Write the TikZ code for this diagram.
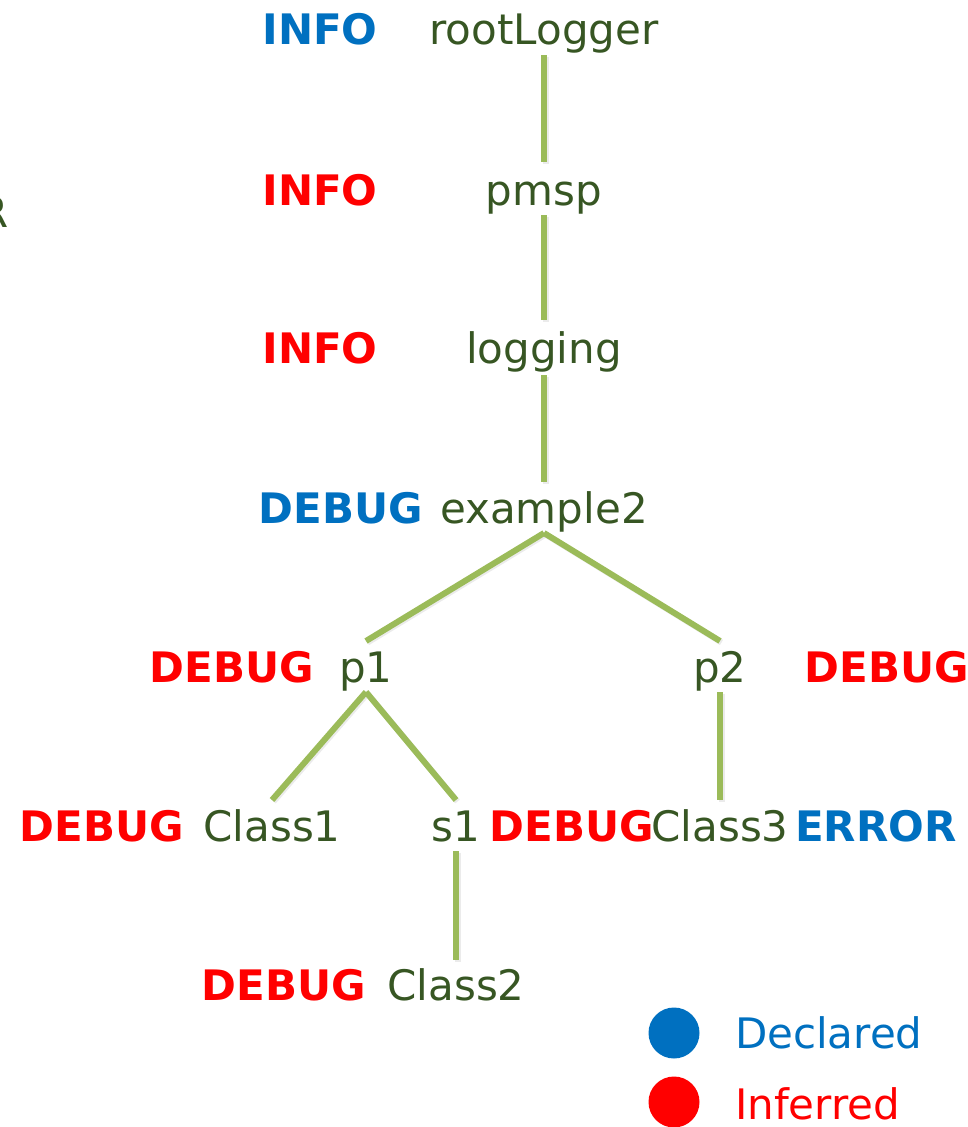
\documentclass[tikz,border=0pt]{standalone}
\usepackage{fontspec}
\setmainfont{DejaVu Sans}
\usetikzlibrary{calc}

\definecolor{declared}{RGB}{0,112,192}
\definecolor{inferred}{RGB}{255,0,0}
\definecolor{loggername}{RGB}{55,86,35}
\definecolor{branch}{RGB}{155,187,89}

\tikzset{
  txt/.style={inner sep=0pt, outer sep=0pt, anchor=base,
    text height=30pt, text depth=9pt,
    font=\fontsize{42}{42}\selectfont},
  logger/.style={txt, text=loggername},
  lvldecl/.style={txt, text=declared, font=\fontsize{42}{42}\selectfont\bfseries},
  lvlinf/.style={txt, text=inferred, font=\fontsize{42}{42}\selectfont\bfseries},
  link/.style={draw=branch, line width=6pt},
  linkshade/.style={draw=black!35, line width=6pt, opacity=0.22},
}

\begin{document}
\begin{tikzpicture}[x=1pt, y=-1pt]
  \useasboundingbox (0,0) rectangle (968,1127);

  % stray label cut by the left border
  \node[txt, text=loggername, anchor=base east] (cut) at (9,227) {R};

  % level 0
  \node[lvldecl] (lvRoot) at (320,44) {INFO};
  \node[logger]  (root)   at (544,44) {rootLogger};
  % level 1
  \node[lvlinf]  (lvPmsp) at (320,205) {INFO};
  \node[logger]  (pmsp)   at (544,205) {pmsp};
  % level 2
  \node[lvlinf]  (lvLog)  at (320,363) {INFO};
  \node[logger]  (logging) at (544,363) {logging};
  % level 3
  \node[lvldecl] (lvEx)   at (341,523) {DEBUG};
  \node[logger]  (ex)     at (544,523) {example2};
  % level 4
  \node[lvlinf]  (lvP1)   at (232,682) {DEBUG};
  \node[logger]  (p1)     at (366,682) {p1};
  \node[logger]  (p2)     at (720,682) {p2};
  \node[lvlinf]  (lvP2)   at (887,682) {DEBUG};
  % level 5
  \node[lvlinf]  (lvC1)   at (102,841) {DEBUG};
  \node[logger]  (c1)     at (272,841) {Class1};
  \node[logger]  (s1)     at (456,841) {s1};
  \node[lvlinf]  (lvS1)   at (572,841) {DEBUG};
  \node[logger]  (c3)     at (720,841) {Class3};
  \node[lvldecl] (lvC3)   at (876,841) {ERROR};
  % level 6
  \node[lvlinf]  (lvC2)   at (284,1000) {DEBUG};
  \node[logger]  (c2)     at (456,1000) {Class2};

  % tree branches (shadow first, then the branch itself)
  \foreach \a/\b/\s/\e in {
      root/pmsp/2/13, pmsp/logging/1/13, logging/ex/3/11,
      ex/p1/1/11, ex/p2/1/11,
      p1/c1/1/11, p1/s1/1/11, p2/c3/1/11,
      s1/c2/1/10}{
    \path[linkshade] ([xshift=1.5pt,yshift=-1.5pt-\s pt]\a.south)
      -- ([xshift=1.5pt,yshift=-1.5pt+\e pt]\b.north);
    \path[link] ([yshift=-\s pt]\a.south) -- ([yshift=\e pt]\b.north);
  }

  % legend
  \node[circle, fill=declared, minimum size=51pt, inner sep=0pt] (dotDecl) at (674,1033) {};
  \node[txt, text=declared, anchor=base west] (legDecl) at (735,1048) {Declared};
  \node[circle, fill=inferred, minimum size=51pt, inner sep=0pt] (dotInf) at (674,1102) {};
  \node[txt, text=inferred, anchor=base west, text depth=0pt] (legInf) at (735,1119) {Inferred};
\end{tikzpicture}
\end{document}
